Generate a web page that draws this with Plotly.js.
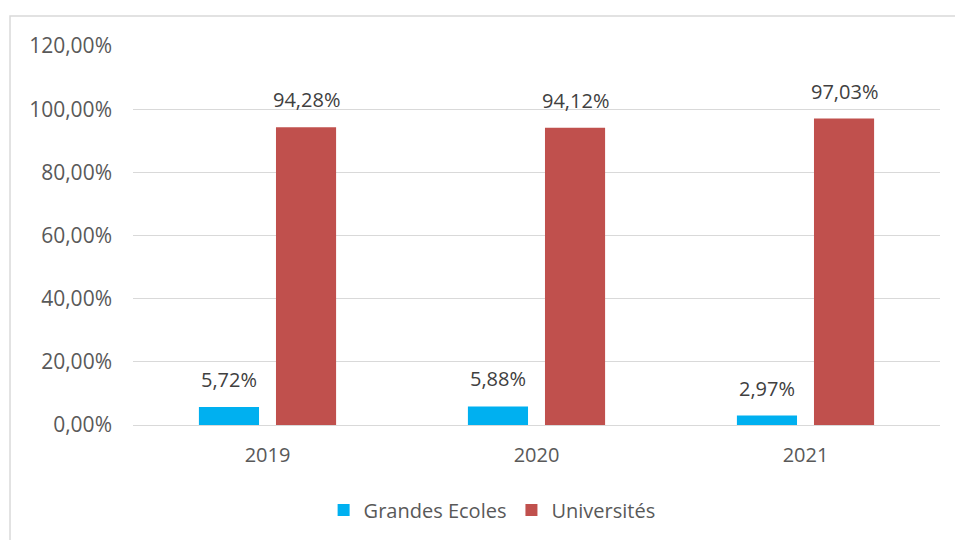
<!DOCTYPE html>
<html><head><meta charset="utf-8">
<script src="https://cdn.plot.ly/plotly-3.0.1.min.js"></script>
<style>html,body{margin:0;padding:0;background:#fff}#chart{width:955px;height:540px}</style>
</head><body><div id="chart"></div>
<script>
const years = ['2019', '2020', '2021'];
const grandesEcoles = [5.72, 5.88, 2.97];
const universites = [94.28, 94.12, 97.03];
const seriesNames = ['Grandes Ecoles', 'Universités'];
const colors = ['#00B0F0', '#C0504D'];

const idx = years.map((_, j) => j);
function fmt(v){ return v.toFixed(2).replace('.', ',') + '%'; }

const traces = [grandesEcoles, universites].map((vals, i) => ({
  type: 'bar', name: seriesNames[i], x: idx, y: vals,
  marker: {color: colors[i]}, hoverinfo: 'none'
}));

const annotations = [];
[grandesEcoles, universites].forEach((vals, i) => {
  vals.forEach((v, j) => {
    annotations.push({
      x: idx[j], y: v, xref: 'x', yref: 'y', text: fmt(v), showarrow: false,
      yanchor: 'bottom', yshift: 12, xshift: i === 0 ? -38.5 : 38.5,
      font: {family: 'Open Sans', size: 20, color: '#404040'}
    });
  });
});

const layout = {
  width: 955, height: 540,
  margin: {l: 133, r: 15, t: 46, b: 114},
  paper_bgcolor: '#fff', plot_bgcolor: '#fff',
  separators: ',',
  barmode: 'group', bargap: 0.427, bargroupgap: 0.22,
  font: {family: 'Open Sans', size: 20, color: '#595959'},
  xaxis: {range: [-0.5, 2.5], tickmode: 'array', tickvals: idx, ticktext: years,
          showgrid: false, zeroline: false, showline: true, linecolor: '#d9d9d9', linewidth: 1,
          ticks: '', ticklabelstandoff: 12, tickfont: {size: 20, color: '#595959'}},
  yaxis: {range: [0, 120], dtick: 20, tick0: 0, tickformat: '.2f', ticksuffix: '%',
          showgrid: true, gridcolor: '#d9d9d9', gridwidth: 1, zeroline: false, showline: false,
          ticks: '', ticklabelstandoff: 20, tickfont: {size: 21, color: '#595959'}},
  showlegend: true,
  legend: {orientation: 'h', x: 0.445, xanchor: 'center', y: -0.17, yanchor: 'top',
           font: {size: 20, color: '#595959'}, itemwidth: 30},
  annotations: annotations,
  shapes: [{type: 'rect', xref: 'paper', yref: 'paper', x0: -0.1524, x1: 1.5, y0: -1, y1: 1.0789,
            line: {color: '#d9d9d9', width: 1.5}, fillcolor: 'rgba(0,0,0,0)', layer: 'below'}]
};

Plotly.newPlot('chart', traces, layout, {displayModeBar: false, staticPlot: true});
</script></body></html>
